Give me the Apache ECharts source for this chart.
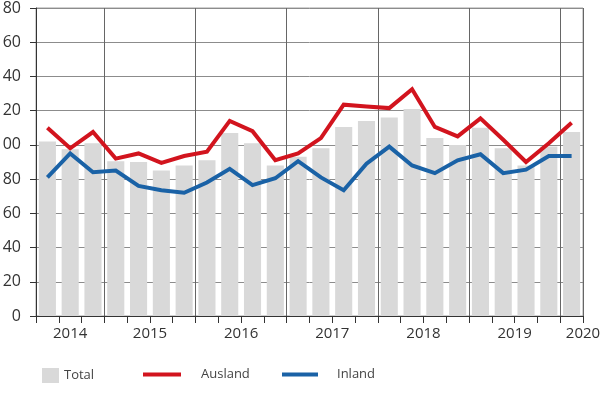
<!DOCTYPE html>
<html>
<head>
<meta charset="utf-8">
<script src="https://cdn.jsdelivr.net/npm/echarts@6/dist/echarts.min.js"></script>
<style>
html,body{margin:0;padding:0;background:#fff;}
#chart{width:600px;height:395px;}
</style>
</head>
<body>
<div id="chart"></div>
<script>
const categories = ['Q2 2014','Q3 2014','Q4 2014',
  'Q1 2015','Q2 2015','Q3 2015','Q4 2015',
  'Q1 2016','Q2 2016','Q3 2016','Q4 2016',
  'Q1 2017','Q2 2017','Q3 2017','Q4 2017',
  'Q1 2018','Q2 2018','Q3 2018','Q4 2018',
  'Q1 2019','Q2 2019','Q3 2019','Q4 2019',
  'Q1 2020'];
const total   = [102, 97.5, 101, 90.5, 90, 85, 88, 91, 107, 101, 88, 93, 98, 110.5, 114, 116, 121, 104, 100, 110, 98, 88, 99, 107.5];
const ausland = [110, 98, 107.5, 92, 95, 89.5, 93.5, 96, 114, 108, 91, 95, 104, 123.5, 122.5, 121.5, 132.5, 110.5, 105, 115.5, 103, 90, 101, 113];
const inland  = [81, 95, 84, 85, 76, 73.5, 72, 78, 86, 76.5, 80.5, 90.5, 81, 73.5, 89, 99, 88, 83.5, 91, 94.5, 83.5, 85.5, 93.5, 93.5];
const yearLabels = ['2014','2015','2016','2017','2018','2019','2020'];
const yearLabelPos = [1.5, 5, 9, 13, 17, 21, 24];

const chart = echarts.init(document.getElementById('chart'));
const font = 'Open Sans';
const option = {
  animation: false,
  textStyle: { fontFamily: font },
  grid: { left: 36, right: 17, top: 8, bottom: 79, containLabel: false, outerBoundsMode: 'none',
    show: true, borderColor: '#a0a0a0', borderWidth: 1, backgroundColor: 'transparent' },
  legend: [
    { left: 42, top: 368, padding: 0, itemWidth: 17, itemHeight: 15, data: [{ name: 'Total', icon: 'rect' }],
      textStyle: { fontFamily: font, fontSize: 13, color: '#444' } },
    { left: 143, top: 368, padding: 0, itemWidth: 38, itemHeight: 4, data: [{ name: 'Ausland', icon: 'rect' }],
      textStyle: { fontFamily: font, fontSize: 13, color: '#444', padding: [0, 0, 0, 15] } },
    { left: 282, top: 368, padding: 0, itemWidth: 36, itemHeight: 4, data: [{ name: 'Inland', icon: 'rect' }],
      textStyle: { fontFamily: font, fontSize: 13, color: '#444', padding: [0, 0, 0, 14] } }
  ],
  xAxis: [
    {
      type: 'category', data: categories, boundaryGap: true,
      axisLine: { show: true, lineStyle: { color: '#333', width: 1 } },
      axisTick: { show: true, interval: 0, length: 7, lineStyle: { color: '#333' } },
      axisLabel: { show: false },
      splitLine: { show: true, interval: function (idx) { return categories[idx] && categories[idx].indexOf('Q1') === 0; },
        lineStyle: { color: '#666', width: 1 } }
    },
    {
      type: 'value', position: 'bottom', min: 0, max: 24, interval: 0.5,
      axisLine: { show: false }, axisTick: { show: false }, splitLine: { show: false },
      axisLabel: { show: true, margin: 10, fontFamily: font, fontSize: 15, color: '#333',
        showMinLabel: true, showMaxLabel: true,
        formatter: function (v) { const i = yearLabelPos.indexOf(v); return i >= 0 ? yearLabels[i] : ''; } }
    }
  ],
  yAxis: {
    type: 'value', min: 0, max: 180, interval: 20,
    axisLine: { show: true, lineStyle: { color: '#333', width: 1 } },
    axisTick: { show: true, length: 6, lineStyle: { color: '#333' } },
    axisLabel: { margin: 15, fontFamily: font, fontSize: 16, color: '#333', padding: [7, 0, 0, 0] },
    splitLine: { show: true, lineStyle: { color: '#8c8c8c', width: 1 } }
  },
  series: [
    { name: 'Total', type: 'bar', data: total, xAxisIndex: 0, barCategoryGap: '25%',
      itemStyle: { color: '#d9d9d9' }, z: 1 },
    { name: 'Ausland', type: 'line', data: ausland, xAxisIndex: 0, symbol: 'none',
      lineStyle: { color: '#d2141e', width: 4, join: 'miter' }, itemStyle: { color: '#d2141e' }, z: 3 },
    { name: 'Inland', type: 'line', data: inland, xAxisIndex: 0, symbol: 'none',
      lineStyle: { color: '#1a62a6', width: 4, join: 'miter' }, itemStyle: { color: '#1a62a6' }, z: 3 }
  ]
};
chart.setOption(option);
</script>
</body>
</html>
